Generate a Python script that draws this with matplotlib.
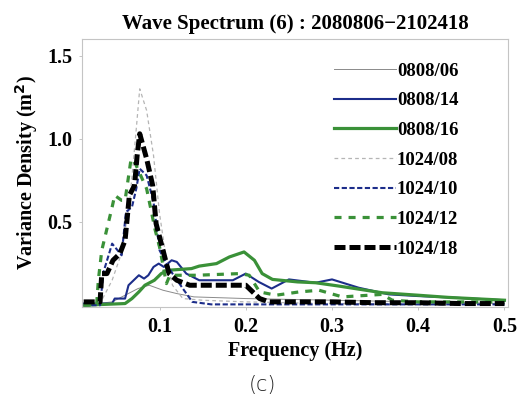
import numpy as np
import matplotlib
matplotlib.use('Agg')
import matplotlib.pyplot as plt

# ---- data (frequency Hz, variance density m^2) ----
f_0806 = [0.012, 0.045, 0.06, 0.075, 0.088, 0.104, 0.12, 0.14, 0.2, 0.3, 0.4, 0.5]
v_0806 = [0.0, 0.02, 0.06, 0.10, 0.12, 0.09, 0.07, 0.05, 0.04, 0.03, 0.02, 0.01]

f_0814 = [0.012, 0.045, 0.048, 0.06, 0.064, 0.076, 0.082, 0.087, 0.093, 0.099, 0.105,
          0.114, 0.12, 0.131, 0.146, 0.185, 0.2, 0.215, 0.23, 0.25, 0.281, 0.3,
          0.331, 0.366, 0.4, 0.435, 0.5]
v_0814 = [0.01, 0.01, 0.04, 0.04, 0.12, 0.18, 0.16, 0.18, 0.23, 0.25, 0.23,
          0.27, 0.26, 0.19, 0.15, 0.15, 0.19, 0.14, 0.10, 0.155, 0.135, 0.155,
          0.105, 0.065, 0.055, 0.047, 0.03]

f_0816 = [0.012, 0.06, 0.068, 0.076, 0.083, 0.094, 0.102, 0.11, 0.137, 0.146, 0.166,
          0.181, 0.198, 0.21, 0.219, 0.231, 0.26, 0.281, 0.308, 0.358, 0.4, 0.435, 0.5]
v_0816 = [0.0, 0.01, 0.04, 0.08, 0.12, 0.15, 0.19, 0.21, 0.22, 0.235, 0.25,
          0.29, 0.32, 0.27, 0.19, 0.155, 0.14, 0.135, 0.115, 0.075, 0.06, 0.047, 0.03]

f_1008 = [0.012, 0.033, 0.045, 0.055, 0.065, 0.072, 0.077, 0.085, 0.093, 0.1, 0.108,
          0.115, 0.127, 0.15, 0.2, 0.25, 0.3, 0.4, 0.5]
v_1008 = [0.0, 0.03, 0.15, 0.30, 0.60, 1.00, 1.30, 1.17, 0.90, 0.55, 0.27,
          0.12, 0.04, 0.03, 0.02, 0.015, 0.01, 0.01, 0.01]

f_1010 = [0.012, 0.031, 0.035, 0.045, 0.056, 0.061, 0.068, 0.073, 0.077, 0.085, 0.093,
          0.1, 0.108, 0.115, 0.127, 0.138, 0.16, 0.2, 0.3, 0.4, 0.5]
v_1010 = [0.0, 0.0, 0.2, 0.37, 0.30, 0.56, 0.59, 0.70, 0.82, 0.78, 0.62,
          0.33, 0.25, 0.19, 0.10, 0.02, 0.005, 0.005, 0.005, 0.005, 0.005]

f_1012 = [0.012, 0.027, 0.029, 0.033, 0.045, 0.048, 0.056, 0.06, 0.067, 0.072, 0.085,
          0.095, 0.1, 0.108, 0.112, 0.143, 0.193, 0.204, 0.216, 0.235, 0.262, 0.285,
          0.312, 0.358, 0.37, 0.4, 0.45, 0.5]
v_1012 = [0.0, 0.0, 0.15, 0.33, 0.59, 0.66, 0.63, 0.63, 0.88, 0.85, 0.70,
          0.45, 0.35, 0.13, 0.18, 0.18, 0.19, 0.18, 0.08, 0.06, 0.08, 0.09,
          0.05, 0.065, 0.03, 0.02, 0.02, 0.02]

f_1018 = [0.012, 0.031, 0.033, 0.039, 0.046, 0.054, 0.06, 0.065, 0.071, 0.074, 0.077,
          0.085, 0.092, 0.096, 0.104, 0.111, 0.12, 0.135, 0.16, 0.185, 0.2, 0.216,
          0.227, 0.25, 0.3, 0.35, 0.4, 0.45, 0.5]
v_1018 = [0.02, 0.02, 0.19, 0.19, 0.27, 0.31, 0.39, 0.66, 0.72, 0.90, 1.03,
          0.88, 0.72, 0.49, 0.33, 0.19, 0.15, 0.12, 0.12, 0.12, 0.12, 0.04,
          0.02, 0.02, 0.02, 0.015, 0.015, 0.01, 0.01]

x_ticks = [0.1, 0.2, 0.3, 0.4, 0.5]
y_ticks = [0.5, 1.0, 1.5]

serif = ['Liberation Serif', 'DejaVu Serif']

fig = plt.figure(figsize=(5.22, 3.97), dpi=100)
ax = fig.add_axes([0.157, 0.227, 0.816, 0.675])

blue = '#1c2d8a'
green = '#3a9138'

ax.plot(f_0806, v_0806, color='#8a8a8a', lw=0.7, label='0808/06')
ax.plot(f_0814, v_0814, color=blue, lw=1.5, label='0808/14')
ax.plot(f_0816, v_0816, color=green, lw=2.3, label='0808/16')
ax.plot(f_1008, v_1008, color='#b5b5b5', lw=0.9, ls=(0, (3, 2.5)), label='1024/08')
ax.plot(f_1010, v_1010, color=blue, lw=1.5, ls=(0, (2.5, 1.2)), label='1024/10')
ax.plot(f_1012, v_1012, color=green, lw=2.3, ls=(0, (2.2, 2.2)), label='1024/12')
ax.plot(f_1018, v_1018, color='black', lw=3.6, ls=(0, (2.2, 0.8)), label='1024/18')

ax.set_xlim(0.01, 0.504)
ax.set_ylim(-0.01, 1.6)
ax.set_xticks(x_ticks)
ax.set_xticklabels(['%.1f' % t for t in x_ticks])
ax.set_yticks(y_ticks)
ax.set_yticklabels(['%.1f' % t for t in y_ticks])
ax.tick_params(length=2, width=0.6, color='#bbbbbb', pad=5)
for lab in ax.get_xticklabels() + ax.get_yticklabels():
    lab.set_family(serif)
    lab.set_weight('bold')
    lab.set_size(14.5)
for sp in ax.spines.values():
    sp.set_color('#c4c4c4')
    sp.set_linewidth(0.8)

ax.set_xlabel('Frequency (Hz)', family=serif, weight='bold', size=14.5, labelpad=3)
ax.set_ylabel('Variance Density (m$^\\mathbf{2}$)', family=serif, weight='bold', size=14.5, labelpad=5)
ax.set_title('Wave Spectrum (6) : 2080806\u22122102418', family=serif, weight='bold', size=15, pad=7)

leg = ax.legend(loc='upper left', bbox_to_anchor=(0.552, 0.975), frameon=False,
                handlelength=3.3, handletextpad=0.05, labelspacing=0.67,
                prop={'family': serif, 'weight': 'bold', 'size': 13.5})

fig.text(0.502, 0.005, '(c)', ha='center', va='bottom', size=15, family='DejaVu Sans',
         color='#222222', weight='light')

fig.savefig('out.png', dpi=100)
